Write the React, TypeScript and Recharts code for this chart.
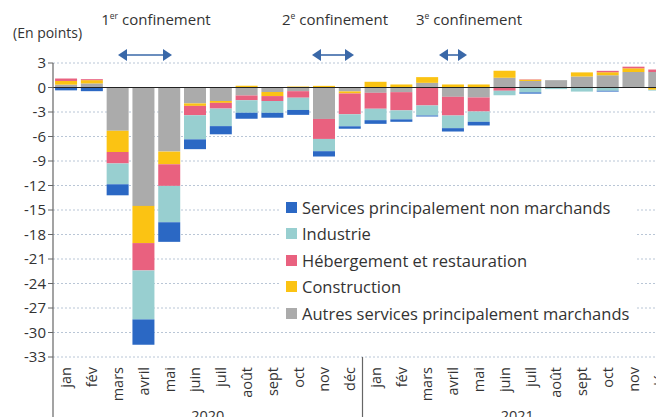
import { BarChart, Bar, XAxis, YAxis, CartesianGrid, ReferenceLine, Legend } from "recharts";

const FONT = "'Open Sans', 'Noto Sans', sans-serif";

const months = ["jan", "fév", "mars", "avril", "mai", "juin", "juil", "août", "sept", "oct", "nov", "déc"];
const years = ["2020", "2021"];
const yTicks = [3, 0, -3, -6, -9, -12, -15, -18, -21, -24, -27, -30, -33];

// contributions, en points (2020 puis 2021)
const autres = [0.35, 0.5, -5.3, -14.5, -7.85, -1.95, -1.65, -0.97, -0.55, -0.45, -3.85, -0.48, -0.65, -0.57, 0.57, -1.14, -1.22, 1.18, 0.8, 0.9, 1.35, 1.5, 1.9, 1.9];
const construction = [0.45, 0.4, -2.6, -4.55, -1.55, -0.3, -0.23, 0.22, -0.5, 0.12, 0.2, -0.25, 0.7, 0.37, 0.7, 0.37, 0.37, 0.88, 0.15, 0, 0.5, 0.37, 0.45, -0.28];
const hebergement = [0.3, 0.12, -1.4, -3.35, -2.65, -1.15, -0.7, -0.58, -0.6, -0.8, -2.45, -2.55, -1.95, -2.23, -2.2, -2.29, -1.72, -0.4, 0.05, 0, 0, 0.17, 0.2, 0.3];
const industrie = [0, 0, -2.55, -6.0, -4.45, -2.95, -2.15, -1.55, -1.45, -1.5, -1.5, -1.47, -1.4, -1.1, -1.23, -1.55, -1.26, -0.55, -0.6, -0.2, -0.5, -0.4, -0.05, -0.1];
const nonMarchands = [-0.35, -0.45, -1.35, -3.1, -2.4, -1.2, -1.0, -0.72, -0.6, -0.6, -0.65, -0.3, -0.45, -0.3, -0.12, -0.41, -0.45, 0, -0.15, 0, 0, -0.1, 0, 0];

// stacking order (nearest zero first)
const series = [
  { key: "autres", name: "Autres services principalement marchands", color: "#ababab", values: autres },
  { key: "construction", name: "Construction", color: "#fbc313", values: construction },
  { key: "hebergement", name: "Hébergement et restauration", color: "#e9617f", values: hebergement },
  { key: "industrie", name: "Industrie", color: "#98cfd0", values: industrie },
  { key: "nonMarchands", name: "Services principalement non marchands", color: "#2b68c4", values: nonMarchands },
];
const legendOrder = ["nonMarchands", "industrie", "hebergement", "construction", "autres"];

const data = years.flatMap((yr, yi) =>
  months.map((m, mi) => {
    const i = yi * 12 + mi;
    const row: Record<string, any> = { id: `${m} ${yr}`, month: m };
    series.forEach((s) => (row[s.key] = s.values[i]));
    return row;
  })
);

const W = 680;
const H = 440;
const M = { top: 63, right: 8, left: 8, bottom: 0 };
const Y_W = 45;
const BAND = (W - M.left - M.right - Y_W) / data.length;

const MonthTick = (props: any) => {
  const { x, y, index } = props;
  const label = data[index]?.month;
  const left = x - BAND / 2;
  return (
    <g>
      {(index === 0 || index === 12) && (
        <line x1={left} x2={left} y1={y} y2={y + 90} stroke="#666" strokeWidth={1.2} />
      )}
      {(index === 0 || index === 12) && (
        <text x={left + BAND * 6} y={y + 64} textAnchor="middle" fill="#333" fontSize={14.5} fontFamily={FONT}>
          {years[index === 0 ? 0 : 1]}
        </text>
      )}
      <text
        transform={`translate(${x},${y + 10}) rotate(-90)`}
        textAnchor="end"
        dominantBaseline="central"
        fill="#333"
        fontSize={14.5}
        fontFamily={FONT}
      >
        {label}
      </text>
    </g>
  );
};

const LegendBox = () => (
  <div style={{ background: "#fff", padding: "0 6px", fontFamily: FONT, fontSize: 16.5, color: "#333" }}>
    {legendOrder.map((k) => {
      const s = series.find((d) => d.key === k)!;
      return (
        <div key={k} style={{ display: "flex", alignItems: "center", height: 26.5, whiteSpace: "nowrap" }}>
          <span style={{ width: 11, height: 11, background: s.color, marginRight: 5, display: "inline-block" }} />
          {s.name}
        </div>
      );
    })}
  </div>
);

const Arrow = ({ x1, x2, y }: { x1: number; x2: number; y: number }) => (
  <g fill="#3a68a8" stroke="#3a68a8">
    <line x1={x1 + 6} x2={x2 - 6} y1={y} y2={y} strokeWidth={1.6} />
    <polygon points={`${x1},${y} ${x1 + 9},${y - 6} ${x1 + 9},${y + 6}`} stroke="none" />
    <polygon points={`${x2},${y} ${x2 - 9},${y - 6} ${x2 - 9},${y + 6}`} stroke="none" />
  </g>
);

const Confinement = ({ n, sup, x }: { n: string; sup: string; x: number }) => (
  <text x={x} y={25} textAnchor="middle" fill="#333" fontSize={15} fontFamily={FONT}>
    {n}
    <tspan fontSize={8.5} dy={-6}>{sup}</tspan>
    <tspan dy={6}> confinement</tspan>
  </text>
);

const App = () => {
  return (
    <div style={{ position: "relative", width: 664, height: 417, overflow: "hidden", margin: "-8px 0 0 -8px", background: "#fff" }}>
      <BarChart width={W} height={H} data={data} margin={M} stackOffset="sign" barCategoryGap="8%">
        <CartesianGrid vertical={false} stroke="#b9c6d6" strokeDasharray="2 2" />
        <XAxis dataKey="id" axisLine={false} tickLine={false} tickSize={0} tickMargin={0} height={H - 357} interval={0} tick={<MonthTick />} />
        <YAxis
          width={Y_W}
          domain={[-33, 3]}
          ticks={yTicks}
          interval={0}
          axisLine={{ stroke: "#666", strokeWidth: 1.2 }}
          tickLine={{ stroke: "#666" }}
          tickSize={5}
          tick={{ fill: "#333", fontSize: 15, fontFamily: FONT }}
        />
        <ReferenceLine y={0} stroke="#222" strokeWidth={1.2} />
        {series.map((s) => (
          <Bar key={s.key} dataKey={s.key} name={s.name} stackId="a" fill={s.color} isAnimationActive={false} />
        ))}
        <Legend
          layout="vertical"
          align="center"
          verticalAlign="middle"
          content={<LegendBox />}
          wrapperStyle={{ left: 280, top: 194, width: "auto", height: "auto" }}
        />
      </BarChart>
      <svg width={664} height={70} style={{ position: "absolute", left: 0, top: 0, pointerEvents: "none" }}>
        <text x={13} y={38} fill="#333" fontSize={14} fontFamily={FONT}>(En points)</text>
        <Confinement n="1" sup="er" x={156} />
        <Confinement n="2" sup="e" x={335} />
        <Confinement n="3" sup="e" x={469} />
        <Arrow x1={118} x2={172} y={55} />
        <Arrow x1={312} x2={354} y={55} />
        <Arrow x1={439} x2={467} y={55} />
      </svg>
    </div>
  );
};

export default App;
